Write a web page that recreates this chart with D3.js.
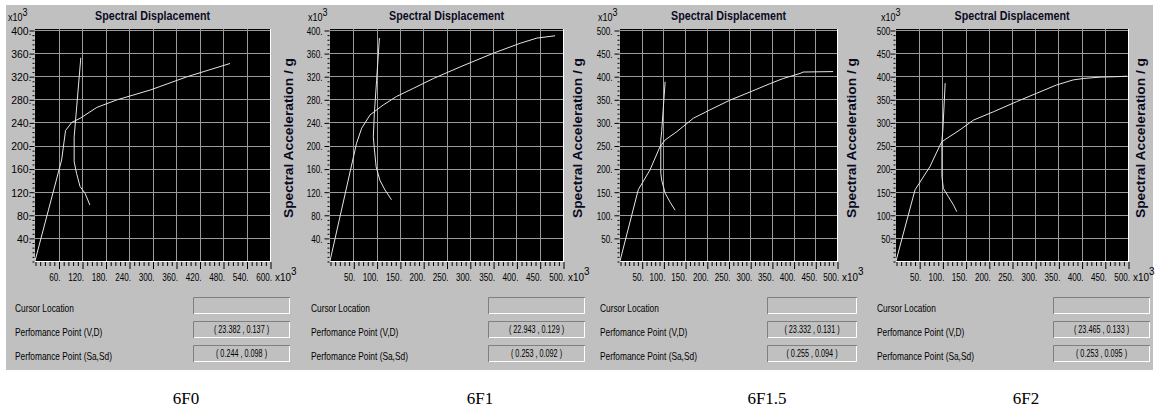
<!DOCTYPE html>
<html>
<head>
<meta charset="utf-8">
<script src="https://cdn.jsdelivr.net/npm/d3@7"></script>
<style>
  body { margin: 0; background: #fff; }
  svg { display: block; }
</style>
</head>
<body>
<svg id="chart" width="1155" height="412"></svg>
<script>
/* Four pushover / capacity-spectrum panels (6F0 … 6F2), ADRS format.
   Values are read off the reference, in the chart's own x10^3 units. */

// ──────────────  data

const panelNames = ['6F0', '6F1', '6F1.5', '6F2'];

// capacity curves [Sd, Sa]
const capacity6F0  = [[0,0],[68,175],[78,226],[94,240],[115,247],[158,266],[209,279],[294,296],[388,319],[498,342]];
const capacity6F1  = [[0,0],[57,204],[68,230],[86,253],[114,270],[143,285],[179,299],[222,316],[279,336],[351,360],[408,377],[444,386],[483,390]];
const capacity6F15 = [[0,0],[42,154],[69,197],[92,247],[104,262],[131,280],[169,309],[207,327],[253,348],[300,366],[346,384],[376,395],[415,406],[422,409],[491,410]];
const capacity6F2  = [[0,0],[41,154],[73,204],[95,251],[99,258],[106,263],[138,284],[167,305],[210,323],[260,345],[303,363],[346,381],[382,392],[404,395],[440,398],[476,399],[498,400]];

// demand curves [Sd, Sa]
const demand6F0  = [[117,352],[100,215],[100,172],[106,152],[115,129],[128,117],[140,97]];
const demand6F1  = [[106,386],[100,313],[95,253],[93,215],[95,196],[99,163],[107,140],[118,123],[132,106]];
const demand6F15 = [[104,388],[96,280],[94,262],[94,190],[96,175],[104,147],[115,128],[127,110]];
const demand6F2  = [[106,385],[101,284],[99,260],[99,183],[102,157],[113,139],[124,121],[131,107]];

// tick labels
const xTicks60 = [60, 120, 180, 240, 300, 360, 420, 480, 540, 600];
const xTicks50 = [50, 100, 150, 200, 250, 300, 350, 400, 450, 500];
const yTicks40 = [40, 80, 120, 160, 200, 240, 280, 320, 360, 400];
const yTicks50 = [50, 100, 150, 200, 250, 300, 350, 400, 450, 500];

// info boxes
const infoLabels = ['Cursor Location', 'Perfomance Point (V,D)', 'Perfomance Point (Sa,Sd)'];
const vdPoints   = ['( 23.382 , 0.137 )', '( 22.943 , 0.129 )', '( 23.332 , 0.131 )', '( 23.465 , 0.133 )'];
const saSdPoints = ['( 0.244 , 0.098 )', '( 0.253 , 0.092 )', '( 0.255 , 0.094 )', '( 0.253 , 0.095 )'];

const capacities = [capacity6F0, capacity6F1, capacity6F15, capacity6F2];
const demands    = [demand6F0, demand6F1, demand6F15, demand6F2];
const xTickSets  = [xTicks60, xTicks50, xTicks50, xTicks50];
const yTickSets  = [yTicks40, yTicks40, yTicks50, yTicks50];

// ──────────────  layout (pixels)

const PLOT_TOP = 29, PLOT_BOTTOM = 261;
const layout = [
  { left: 35,  right: 270,  yGap: 4, yScaleX: 0.95, expX: 8,   sideX: 289,  infoX: 15,  boxX: 193,  boxW: 97, capX: 186 },
  { left: 330, right: 563,  yGap: 8, yScaleX: 0.74, expX: 308, sideX: 578,  infoX: 311, boxX: 488,  boxW: 97, capX: 480 },
  { left: 620, right: 837,  yGap: 8, yScaleX: 0.74, expX: 598, sideX: 852,  infoX: 600, boxX: 767,  boxW: 90, capX: 767 },
  { left: 896, right: 1128, yGap: 4, yScaleX: 0.74, expX: 881, sideX: 1141, infoX: 877, boxX: 1053, boxW: 97, capX: 1026 },
];
const BOX_Y = [297, 321, 345], BOX_H = 17;

const FACE   = '#c0c0c0';
const GRID   = '#9a9a9a';
const CURVE  = '#e6e6e6';
const SANS   = 'Liberation Sans, Arial, sans-serif';
const SERIF  = 'Liberation Serif, Times New Roman, serif';

const svg = d3.select('#chart');
const crisp = v => Math.round(v) + 0.5;

// dialog face behind all four panels
svg.append('rect')
  .attr('x', 6).attr('y', 5).attr('width', 1147).attr('height', 365)
  .attr('fill', FACE);

// condensed text helper
function label(g, x, y, str, opts = {}) {
  return g.append('text')
    .attr('transform', `translate(${x},${y}) scale(${opts.sx || 0.74},1)`)
    .attr('font-family', SANS)
    .attr('font-size', opts.size || 11)
    .attr('font-weight', opts.weight || 'normal')
    .attr('text-anchor', opts.anchor || 'start')
    .attr('fill', opts.fill || '#000')
    .text(str);
}

panelNames.forEach((name, i) => {
  const L = layout[i];
  const xTicks = xTickSets[i], yTicks = yTickSets[i];
  const xMax = xTicks[xTicks.length - 1], yMax = yTicks[yTicks.length - 1];

  const x = d3.scaleLinear().domain([0, xMax]).range([L.left, L.right]);
  const y = d3.scaleLinear().domain([0, yMax]).range([PLOT_BOTTOM, PLOT_TOP + 1]);

  const g = svg.append('g').attr('class', 'panel');

  // plot background
  g.append('rect')
    .attr('x', L.left).attr('y', PLOT_TOP)
    .attr('width', L.right - L.left).attr('height', PLOT_BOTTOM - PLOT_TOP)
    .attr('fill', '#000');

  // grid
  g.append('g').selectAll('line').data(xTicks.slice(0, -1)).join('line')
    .attr('x1', d => crisp(x(d))).attr('x2', d => crisp(x(d)))
    .attr('y1', PLOT_TOP).attr('y2', PLOT_BOTTOM)
    .attr('stroke', GRID).attr('stroke-width', 1);
  g.append('g').selectAll('line').data(yTicks).join('line')
    .attr('x1', L.left).attr('x2', L.right)
    .attr('y1', d => crisp(y(d))).attr('y2', d => crisp(y(d)))
    .attr('stroke', GRID).attr('stroke-width', 1);

  // curves
  const clipId = `clip-${i}`;
  g.append('clipPath').attr('id', clipId).append('rect')
    .attr('x', L.left).attr('y', PLOT_TOP)
    .attr('width', L.right - L.left).attr('height', PLOT_BOTTOM - PLOT_TOP);
  const line = d3.line().x(d => x(d[0])).y(d => y(d[1]));
  const curves = g.append('g').attr('clip-path', `url(#${clipId})`);
  [capacities[i], demands[i]].forEach(series => {
    curves.append('path').datum(series)
      .attr('d', line)
      .attr('fill', 'none')
      .attr('stroke', CURVE)
      .attr('stroke-width', 1);
  });

  // white 3D edge right + bottom
  g.append('line')
    .attr('x1', crisp(L.right)).attr('x2', crisp(L.right))
    .attr('y1', PLOT_TOP).attr('y2', PLOT_BOTTOM + 1)
    .attr('stroke', '#fff');
  g.append('line')
    .attr('x1', L.left).attr('x2', L.right + 1)
    .attr('y1', crisp(PLOT_BOTTOM)).attr('y2', crisp(PLOT_BOTTOM))
    .attr('stroke', '#fff');

  // minor ticks (5 subdivisions)
  const xStep = xTicks[0] / 5, yStep = yTicks[0] / 5;
  const xMinor = d3.range(0, xMax + 1e-6, xStep).filter(v => !xTicks.includes(Math.round(v)));
  const yMinor = d3.range(0, yMax + 1e-6, yStep).filter(v => !yTicks.includes(Math.round(v)));

  const xAxisG = g.append('g').attr('transform', `translate(0.5,${PLOT_BOTTOM + 1})`);
  xAxisG.append('g').call(d3.axisBottom(x).tickValues(xMinor).tickSize(4).tickSizeOuter(0).tickFormat(''));
  xAxisG.append('g').call(d3.axisBottom(x).tickValues(xTicks).tickSize(7).tickSizeOuter(0).tickFormat(d => d + '.'));

  const yAxisG = g.append('g').attr('transform', `translate(${L.left - 0.5},0.5)`);
  yAxisG.append('g').call(d3.axisLeft(y).tickValues(yMinor).tickSize(2).tickSizeOuter(0).tickFormat(''));
  yAxisG.append('g').call(d3.axisLeft(y).tickValues(yTicks).tickSize(5).tickSizeOuter(0).tickFormat(d => d + '.'));

  g.selectAll('.domain').remove();
  g.selectAll('.tick line').attr('stroke', '#000');
  xAxisG.selectAll('.tick text')
    .attr('x', 0).attr('y', 0).attr('dy', null)
    .attr('text-anchor', 'end')
    .attr('transform', 'translate(1,19) scale(0.74,1)')
    .attr('font-family', SANS).attr('font-size', 11).attr('fill', '#000');
  yAxisG.selectAll('.tick text')
    .attr('x', 0).attr('dy', '0.35em')
    .attr('text-anchor', 'end')
    .attr('transform', `translate(${-L.yGap + 1},0) scale(${L.yScaleX},1)`)
    .attr('font-family', SANS).attr('font-size', 11).attr('fill', '#000');

  // x10^3 multipliers
  const expTop = label(g, L.expX, 21, 'x10', { sx: 0.9, size: 10 });
  expTop.append('tspan').attr('dy', -5).text('3');
  const expBot = label(g, L.right + 5, 281, 'x10', { sx: 0.9 });
  expBot.append('tspan').attr('dy', -6).text('3');

  // title
  g.append('text')
    .attr('x', (L.left + L.right) / 2).attr('y', 20)
    .attr('text-anchor', 'middle')
    .attr('font-family', SANS).attr('font-size', 13).attr('font-weight', 'bold')
    .attr('textLength', 115).attr('lengthAdjust', 'spacingAndGlyphs')
    .attr('fill', '#0a0a1e')
    .text('Spectral Displacement');

  // right-side axis title
  g.append('text')
    .attr('transform', `translate(${L.sideX},138) rotate(-90)`)
    .attr('text-anchor', 'middle').attr('dy', '0.35em')
    .attr('font-family', SANS).attr('font-size', 12).attr('font-weight', 'bold')
    .attr('textLength', 160).attr('lengthAdjust', 'spacingAndGlyphs')
    .attr('fill', '#0a0a1e')
    .text('Spectral Acceleration / g');

  // info rows
  const values = ['', vdPoints[i], saSdPoints[i]];
  infoLabels.forEach((txt, r) => {
    label(g, L.infoX, BOX_Y[r] + 15, txt, { sx: 0.76 });
    const bx = L.boxX, by = BOX_Y[r], bw = L.boxW;
    g.append('rect').attr('x', bx).attr('y', by).attr('width', bw).attr('height', BOX_H).attr('fill', FACE);
    g.append('path')
      .attr('d', `M${bx + 0.5},${by + BOX_H}V${by + 0.5}H${bx + bw}`)
      .attr('fill', 'none').attr('stroke', '#808080');
    g.append('path')
      .attr('d', `M${bx + 1},${by + BOX_H - 0.5}H${bx + bw - 0.5}V${by + 1}`)
      .attr('fill', 'none').attr('stroke', '#fff');
    if (values[r]) label(g, bx + bw / 2, by + 12, values[r], { sx: 0.66, anchor: 'middle' });
  });

  // caption
  svg.append('text')
    .attr('x', L.capX).attr('y', 404)
    .attr('text-anchor', 'middle')
    .attr('font-family', SERIF).attr('font-size', 17)
    .attr('fill', '#000')
    .text(name);
});
</script>
</body>
</html>
